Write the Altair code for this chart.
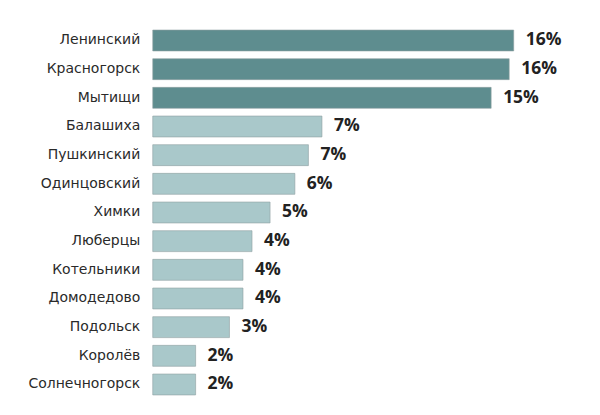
import altair as alt
import pandas as pd

districts = ["Ленинский", "Красногорск", "Мытищи", "Балашиха", "Пушкинский",
             "Одинцовский", "Химки", "Люберцы", "Котельники", "Домодедово",
             "Подольск", "Королёв", "Солнечногорск"]
values = [16.0, 15.8, 15.0, 7.5, 6.9, 6.3, 5.2, 4.4, 4.0, 4.0, 3.4, 1.9, 1.9]
labels = ["16%", "16%", "15%", "7%", "7%", "6%", "5%", "4%", "4%", "4%", "3%", "2%", "2%"]
group = ["top", "top", "top"] + ["rest"] * 10

df = pd.DataFrame({"district": districts, "value": values, "label": labels, "group": group})

y = alt.Y("district:N", sort=districts, title=None,
          scale=alt.Scale(paddingInner=0.27, paddingOuter=0.13),
          axis=alt.Axis(domain=False, ticks=False, labelFontSize=14, labelColor="#2a2a2a",
                        labelFont="DejaVu Sans", labelPadding=13, labelLimit=200))
x = alt.X("value:Q", scale=alt.Scale(domain=[0, 17.7]), axis=None)

bars = alt.Chart(df).mark_bar(stroke="#8fa0a1", strokeWidth=0.6).encode(
    x=x, y=y,
    color=alt.Color("group:N", scale=alt.Scale(domain=["top", "rest"], range=["#5e8d8f", "#a9c8ca"]),
                    legend=None),
)
text = alt.Chart(df).mark_text(align="left", baseline="middle", dx=12, fontSize=17.5,
                               fontWeight="bold", font="Open Sans", color="#222222").encode(
    x=x, y=y, text="label:N")

chart = (bars + text).properties(
    width=400, height=373,
    autosize=alt.AutoSizeParams(type="none"),
    padding={"left": 145, "top": 18, "right": 40, "bottom": 10},
).configure_view(stroke=None)

chart.save("out.html", embed_options={"renderer": "svg", "actions": False})
